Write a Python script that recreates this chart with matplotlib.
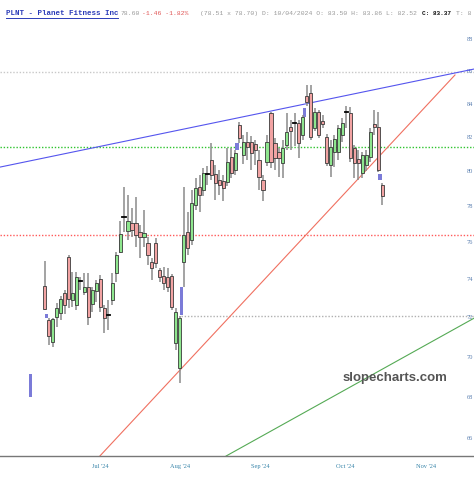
import matplotlib
matplotlib.use('Agg')
import matplotlib.pyplot as plt
from matplotlib.ticker import NullLocator

plt.rcParams['font.family'] = 'Liberation Serif'

# daily candles, PLNT, mid June -> mid Oct 2024
opens = [73.64, 71.86, 70.73, 72.02, 72.22, 73.27, 75.20, 72.90, 72.64, 73.93,
         73.32, 73.59, 72.69, 73.38, 74.01, 72.48, 72.12, 72.90, 74.34, 75.47,
         77.40, 76.62, 77.06, 77.06, 76.57, 76.30, 75.97, 74.93, 75.97, 74.50,
         74.18, 74.12, 74.18, 70.68, 69.42, 74.93, 76.57, 76.13, 78.08, 79.09,
         78.92, 79.84, 80.65, 79.84, 79.49, 79.43, 79.38, 80.82, 80.07, 82.71,
         80.94, 81.70, 81.70, 81.58, 80.65, 79.49, 80.53, 83.43, 81.64, 81.11,
         80.47, 81.52, 82.59, 82.83, 82.83, 82.11, 84.45, 84.64, 82.53, 83.49,
         82.95, 81.99, 80.36, 81.11, 81.11, 82.11, 83.50, 83.43, 81.35, 80.71,
         79.90, 80.36, 80.82, 82.77, 82.59, 79.20]
highs = [74.99, 71.96, 71.96, 72.74, 73.11, 73.43, 75.31, 74.39, 74.39, 74.12,
         74.34, 74.34, 73.59, 73.96, 74.23, 72.64, 72.90, 74.34, 75.47, 77.17,
         79.09, 78.64, 77.90, 78.53, 76.95, 77.79, 76.30, 75.15, 76.24, 74.61,
         74.66, 74.61, 74.28, 72.48, 72.07, 79.09, 77.68, 78.92, 79.61, 79.78,
         80.18, 80.30, 81.64, 80.36, 80.07, 79.78, 81.35, 81.35, 81.23, 82.89,
         82.11, 82.29, 82.05, 81.82, 81.23, 79.78, 82.11, 83.49, 81.94, 81.35,
         81.82, 83.43, 83.01, 83.43, 83.01, 83.31, 85.13, 85.13, 83.73, 83.61,
         83.31, 82.17, 81.82, 82.11, 82.71, 83.13, 83.86, 83.79, 81.52, 81.23,
         81.11, 81.23, 82.53, 83.61, 83.49, 79.32]
lows = [72.38, 70.57, 70.47, 71.50, 71.86, 72.17, 72.48, 72.53, 72.38, 73.43,
        73.16, 71.60, 72.27, 72.80, 72.27, 71.19, 71.34, 72.64, 73.85, 75.42,
        76.57, 76.13, 76.30, 75.75, 75.15, 75.75, 74.77, 73.96, 74.61, 73.85,
        73.43, 73.32, 72.38, 70.32, 68.67, 73.59, 75.31, 75.86, 77.79, 77.68,
        78.58, 79.20, 79.49, 78.36, 78.64, 78.30, 79.15, 79.61, 79.78, 81.64,
        80.42, 80.65, 80.07, 80.36, 78.92, 78.30, 80.30, 80.18, 80.07, 79.67,
        79.61, 81.23, 81.23, 81.47, 80.76, 81.82, 83.85, 81.82, 82.35, 81.94,
        82.53, 80.30, 79.67, 80.24, 80.65, 81.70, 82.52, 80.53, 79.61, 79.49,
        79.61, 80.01, 80.53, 82.11, 79.96, 78.08]
closes = [72.43, 71.03, 71.91, 72.48, 72.95, 72.64, 72.95, 73.27, 74.12, 73.91,
          73.59, 72.02, 73.43, 73.80, 72.53, 71.96, 72.10, 73.80, 75.31, 76.46,
          77.38, 77.17, 76.68, 76.40, 76.30, 76.51, 75.31, 74.61, 74.88, 74.12,
          73.80, 73.59, 72.53, 72.27, 71.96, 76.40, 75.69, 78.19, 79.03, 78.64,
          79.90, 79.82, 79.78, 79.32, 79.20, 79.03, 80.53, 79.90, 81.05, 81.94,
          81.70, 81.41, 81.05, 81.23, 79.67, 78.92, 81.70, 80.53, 80.76, 80.76,
          81.35, 82.29, 82.35, 82.81, 81.64, 83.19, 84.09, 81.99, 83.49, 82.11,
          82.77, 80.47, 81.41, 81.88, 82.53, 82.83, 83.37, 80.76, 80.47, 80.47,
          80.94, 80.94, 82.29, 82.59, 80.07, 78.60]

# gap boxes (candle that gapped, low, high)
gap_bar = [-3, 1, 35, 49, 66, 85]
gap_low = [67.98, 71.96, 72.12, 81.23, 83.19, 79.49]
gap_high = [69.12, 72.17, 73.59, 81.64, 83.73, 79.84]

# horizontal levels
level_price = [85.93, 81.44, 76.40, 72.10]
level_start = [-11.3, -11.3, -11.3, 34.45]
level_color = ['#c8c8c8', '#2ec42e', '#ff5a5a', '#b0b0b0']

# trendlines (bar, price) pairs
blue_x, blue_y = [-11.3, 108.2], [80.24, 86.12]
red_x, red_y = [13.9, 103.35], [65.16, 85.75]
green_x, green_y = [45.7, 108.2], [65.16, 71.97]

month_pos = [13.93, 34.08, 54.23, 75.64, 96.05]
month_lab = ["Jul '24", "Aug '24", "Sep '24", "Oct '24", "Nov '24"]
price_ticks = [66, 68, 70, 72, 74, 76, 78, 80, 82, 84, 86, 88]

fig = plt.figure(figsize=(4.74, 4.80), dpi=100)
ax = fig.add_axes([0, 24/480, 1, 456/480])
ax.set_yscale('log')

for p, s, c in zip(level_price, level_start, level_color):
    ax.plot([s, 108.2], [p, p], color=c, linestyle=(0, (1.0, 1.3)), linewidth=1.0,
            solid_capstyle='butt', dash_capstyle='butt', zorder=1)

ax.plot(blue_x, blue_y, color='#5555ee', linewidth=0.8, zorder=2)
ax.plot(red_x, red_y, color='#f07060', linewidth=0.8, zorder=2)
ax.plot(green_x, green_y, color='#55aa55', linewidth=0.8, zorder=2)

for k, lo, hi in zip(gap_bar, gap_low, gap_high):
    ax.bar(k - 0.55, hi - lo, bottom=lo, width=0.95, color='#7b7bd8', zorder=3)

for i in range(len(opens)):
    o, h, l, c = opens[i], highs[i], lows[i], closes[i]
    ax.vlines(i, l, h, colors='#8a8a8a', linewidth=1.1, zorder=4)
    if abs(c - o) < 0.15:
        ax.plot([i - 0.42, i + 0.42], [o, o], color='black', linewidth=1.3, zorder=5)
        continue
    fill = '#8ee68e' if c > o else '#f2a3a3'
    ax.bar(i, abs(c - o), bottom=min(o, c), width=0.8, color=fill,
           edgecolor='#3a3a3a', linewidth=0.6, zorder=5)

ax.set_xlim(-11.26, 108.14)
ax.set_ylim(65.16, 90.51)
ax.set_yticks(price_ticks)
ax.set_yticklabels([str(t) for t in price_ticks])
ax.yaxis.set_minor_locator(NullLocator())
ax.set_xticks(month_pos)
ax.set_xticklabels(month_lab)
ax.tick_params(axis='y', left=False, right=False, labelleft=False, labelright=True,
               pad=-9, labelsize=4.6, labelcolor='#5a7fb0')
ax.tick_params(axis='x', length=0, pad=6, labelsize=4.6, labelcolor='#3a86aa')
for s in ['top', 'left', 'right']:
    ax.spines[s].set_visible(False)
ax.spines['bottom'].set_color('#777777')
ax.spines['bottom'].set_linewidth(1.0)

fig.text(395/474, 1 - 378/480, 'slopecharts.com', ha='center', va='center',
         fontsize=9.5, fontweight='bold', color='#555555', family='Liberation Sans')

# header line
hy = 1 - 13.5/480
mono = 'Liberation Mono'
fig.text(6/474, hy, 'PLNT - Planet Fitness Inc', fontsize=5.4, fontweight='bold',
         color='#2b3cb8', family=mono, va='center')
fig.add_artist(plt.Line2D([6/474, 118/474], [1 - 17.5/480, 1 - 17.5/480],
                          color='#2b3cb8', linewidth=0.7))
fig.text(120.7/474, hy, '78.60', fontsize=4.55, color='#999999', family=mono, va='center')
fig.text(141.7/474, hy, '-1.46 -1.82%', fontsize=4.55, color='#e05555', family=mono, va='center')
fig.text(200/474, hy, '(78.51 x 78.70) D: 10/04/2024 O: 83.50 H: 83.86 L: 82.52',
         fontsize=4.55, color='#999999', family=mono, va='center')
fig.text(422/474, hy, 'C: 83.37', fontsize=4.4, fontweight='bold', color='#111111',
         family=mono, va='center')
fig.text(456/474, hy, 'T: 8', fontsize=4.55, color='#999999', family=mono, va='center')

fig.savefig('out.png', dpi=100)
